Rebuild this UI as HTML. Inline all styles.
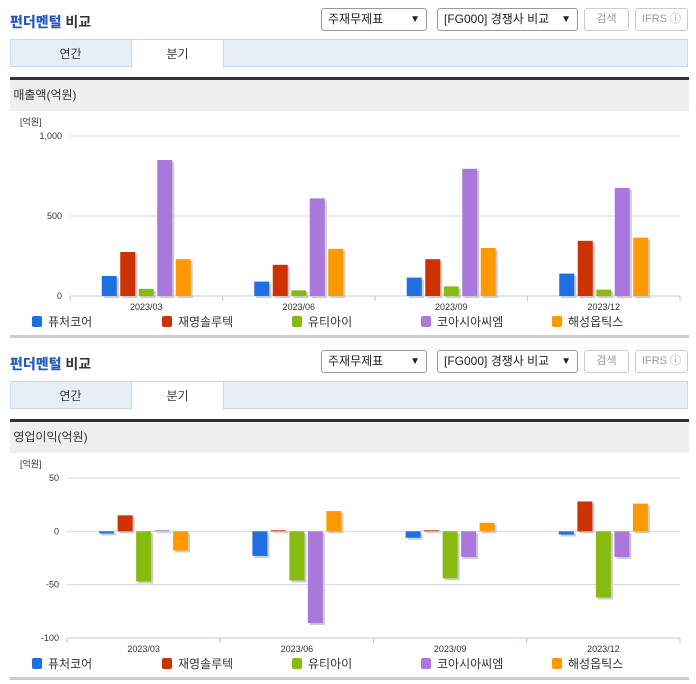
<!DOCTYPE html>
<html><head><meta charset="utf-8">
<style>
body{margin:0;width:696px;height:684px;background:#fff;position:relative;overflow:hidden;font-family:"Liberation Sans","Noto Sans CJK KR",sans-serif;}
.a{position:absolute;}
.title{font-size:14px;font-weight:bold;color:#333;}
.title b{color:#2a5bb5;}
.sel{border:1px solid #999;border-radius:3px;background:#fff;font-size:12px;color:#222;box-sizing:border-box;height:23px;line-height:21px;padding-left:6px;}
.sel span{position:absolute;right:6px;top:0;font-size:10px;}
.btn{border:1px solid #ccc;border-radius:3px;box-sizing:border-box;height:23px;line-height:21px;font-size:11px;color:#999;text-align:center;}
.tabs{left:10px;width:678px;height:28px;background:#e8eef7;border:1px solid #cfd8e3;box-sizing:border-box;}
.tab{font-size:12px;color:#333;text-align:center;line-height:28px;height:28px;}
.head{left:10px;width:679px;height:31px;background:#efefef;border-top:3px solid #333;font-size:12px;color:#333;line-height:30px;box-sizing:content-box;}
.bot{left:10px;width:679px;height:3px;background:#ccc;}
svg text{font-family:"Liberation Sans","Noto Sans CJK KR",sans-serif;}
</style></head><body>
<div id="root"></div>
<script>
const categories=["2023/03","2023/06","2023/09","2023/12"];
const seriesNames=["퓨처코어","재영솔루텍","유티아이","코아시아씨엠","해성옵틱스"];
const colors=["#1f6fe0","#cc3300","#88bb11","#aa77dd","#ff9900"];
const revFuture=[125,90,115,140];
const revJaeyoung=[275,195,230,345];
const revUti=[45,35,60,40];
const revCoasia=[850,610,795,675];
const revHaesung=[230,295,300,365];
const revTicks=[0,500,1000];
const revTickLabels=["0","500","1,000"];
const opFuture=[-2,-23,-6,-3];
const opJaeyoung=[15,1,1,28];
const opUti=[-47,-46,-44,-62];
const opCoasia=[1,-86,-24,-24];
const opHaesung=[-18,19,8,26];
const opTicks=[-100,-50,0,50];
const opTickLabels=["-100","-50","0","50"];

const root=document.getElementById('root');
function div(cls,x,y,w,h,html,name,inter){
  const d=document.createElement('div');
  d.className='a '+cls;
  d.style.left=x+'px';d.style.top=y+'px';
  if(w!=null)d.style.width=w+'px';
  if(h!=null)d.style.height=h+'px';
  d.innerHTML=html||'';
  
  
  root.appendChild(d);return d;
}
const NS='http://www.w3.org/2000/svg';
function el(tag,attrs,parent){const e=document.createElementNS(NS,tag);for(const k in attrs)e.setAttribute(k,attrs[k]);parent.appendChild(e);return e;}

function section(oy,headText,series,ticks,tickLabels,yMin,yMax,plotTop,plotBot,plotLeft,name){
  div('title',10,oy+12,150,20,'<b>펀더멘털</b> 비교',name+'-title',false);
  div('sel',321,oy+8,106,null,'주재무제표<span>&#9660;</span>',name+'-statement-select',true);
  div('sel',437,oy+8,141,null,'[FG000] 경쟁사 비교<span>&#9660;</span>',name+'-peer-select',true);
  div('btn',584,oy+8,45,null,'검색',name+'-search-button',true);
  div('btn',635,oy+8,53,null,'IFRS ⓘ',name+'-ifrs-button',true);
  div('tabs',10,oy+39,null,null,'',name+'-tabs',false);
  div('tab',10,oy+40,121,null,'연간',name+'-tab-annual',true);
  const q=div('tab',131,oy+40,91,null,'분기',name+'-tab-quarter',true);
  q.style.background='#fff';q.style.borderLeft='1px solid #cfd8e3';q.style.borderRight='1px solid #cfd8e3';
  div('head',10,oy+77,null,null,'&nbsp;'+headText,name+'-header',false);
  div('bot',10,oy+335,null,null,'',name+'-bottom-border',false);

  const svg=document.createElementNS(NS,'svg');
  svg.setAttribute('width',696);svg.setAttribute('height',230);
  svg.style.position='absolute';svg.style.left='0';svg.style.top=(oy+111)+'px';
  
  
  root.appendChild(svg);
  const off=oy+111;
  const plotRight=680;
  const y=v=>plotTop+(yMax-v)/(yMax-yMin)*(plotBot-plotTop)-off;
  const groupW=(plotRight-plotLeft)/categories.length;
  const u=el('text',{x:20,y:plotTop-off-11,'font-size':9,fill:'#333'},svg);u.textContent='[억원]';
  
  ticks.forEach((tv,i)=>{
    const g=el('line',{x1:plotLeft,x2:plotRight,y1:y(tv),y2:y(tv),stroke:'#d8d8e4','stroke-width':1},svg);
    
    const tl=el('text',{x:plotLeft-8,y:y(tv)+3,'font-size':9,fill:'#333','text-anchor':'end'},svg);tl.textContent=tickLabels[i];
    
  });
  const ax=el('line',{x1:plotLeft,x2:plotRight,y1:plotBot-off,y2:plotBot-off,stroke:'#c0c8d8'},svg);
  
  const zeroY=y(0);
  categories.forEach((c,gi)=>{
    const gx=plotLeft+gi*groupW;
    for(const xx of [gx,gx+groupW]){el('line',{x1:xx,x2:xx,y1:plotBot-off,y2:plotBot-off+5,stroke:'#c0c8d8'},svg);}
    const cl=el('text',{x:gx+groupW/2,y:plotBot-off+14,'font-size':9,fill:'#333','text-anchor':'middle'},svg);cl.textContent=c;
    
    const bw=15,step=18.5;
    const start=gx+groupW/2-(step*4+bw)/2;
    series.forEach((s,si)=>{
      const v=s[gi];
      const bx=start+si*step;
      const top=Math.min(y(v),zeroY),hh=Math.max(Math.abs(y(v)-zeroY),1);
      el('rect',{x:bx+2,y:top+2,width:bw,height:hh,fill:'#cccccc'},svg);
      const r=el('rect',{x:bx,y:top,width:bw,height:hh,fill:colors[si]},svg);
      
      
    });
  });
  const lx=[32,162,292,421,552];
  seriesNames.forEach((n,i)=>{
    const ly=off+209;
    const sw=el('rect',{x:lx[i],y:ly-off-4,width:10,height:11,rx:2,fill:colors[i]},svg);
    
    const lt=el('text',{x:lx[i]+16,y:ly-off+6,'font-size':12,fill:'#333'},svg);lt.textContent=n;
    
  });
}
section(0,'매출액(억원)',[revFuture,revJaeyoung,revUti,revCoasia,revHaesung],revTicks,revTickLabels,0,1000,136,296,70,'revenue');
section(342,'영업이익(억원)',[opFuture,opJaeyoung,opUti,opCoasia,opHaesung],opTicks,opTickLabels,-100,50,478,638,67,'operating-profit');
</script>
</body></html>
